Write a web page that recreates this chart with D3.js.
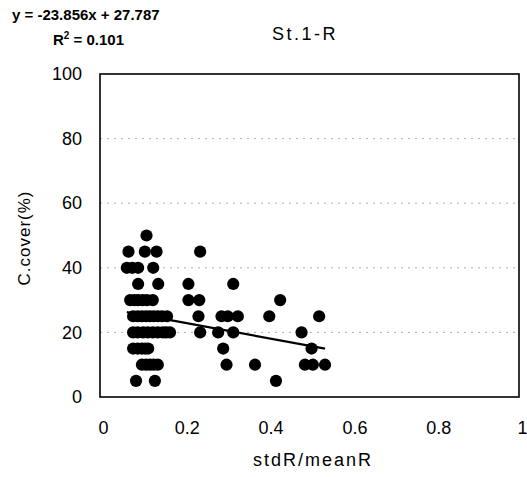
<!DOCTYPE html>
<html>
<head>
<meta charset="utf-8">
<script src="https://cdn.jsdelivr.net/npm/d3@7"></script>
<style>
  body { margin: 0; background: #fff; }
  svg { font-family: "Liberation Sans", Arial, sans-serif; }
</style>
</head>
<body>
<div id="chart"></div>
<script>
// valores (stdR/meanR, C.cover %)
const ratio = [
  0.111,
  0.068, 0.107, 0.135, 0.239,
  0.064, 0.077, 0.091, 0.127,
  0.091, 0.139, 0.211, 0.318,
  0.072, 0.082, 0.091, 0.102, 0.112, 0.126, 0.211, 0.237, 0.430,
  0.079, 0.090, 0.100, 0.110, 0.119, 0.128, 0.138, 0.148, 0.160, 0.235, 0.290, 0.305, 0.329, 0.404, 0.523,
  0.079, 0.090, 0.103, 0.114, 0.126, 0.138, 0.150, 0.158, 0.167, 0.239, 0.282, 0.318, 0.481,
  0.079, 0.090, 0.100, 0.108, 0.115, 0.294, 0.505,
  0.100, 0.110, 0.119, 0.128, 0.138, 0.302, 0.370, 0.489, 0.508, 0.537,
  0.086, 0.131, 0.420
];
const cover = [
  50,
  45, 45, 45, 45,
  40, 40, 40, 40,
  35, 35, 35, 35,
  30, 30, 30, 30, 30, 30, 30, 30, 30,
  25, 25, 25, 25, 25, 25, 25, 25, 25, 25, 25, 25, 25, 25, 25,
  20, 20, 20, 20, 20, 20, 20, 20, 20, 20, 20, 20, 20,
  15, 15, 15, 15, 15, 15, 15,
  10, 10, 10, 10, 10, 10, 10, 10, 10, 10,
  5, 5, 5
];
const slope = -23.856;
const intercept = 27.787;
const r2 = "0.101";
const xTicks = [0, 0.2, 0.4, 0.6, 0.8, 1];
const yTicks = [0, 20, 40, 60, 80, 100];
const gridValues = [20, 40, 60, 80];

const width = 527, height = 477;
const svg = d3.select("#chart").append("svg")
  .attr("width", width)
  .attr("height", height);

const x = d3.scaleLinear().domain([0, 1]).range([100, 519]);
const y = d3.scaleLinear().domain([0, 100]).range([397, 74]);

// linhas de grade pontilhadas
svg.append("g").selectAll("line")
  .data(gridValues)
  .join("line")
  .attr("x1", x(0)).attr("x2", x(1))
  .attr("y1", d => y(d)).attr("y2", d => y(d))
  .attr("stroke", "#999")
  .attr("stroke-width", 0.8)
  .attr("stroke-dasharray", "2,5");

// moldura
svg.append("rect")
  .attr("x", x(0)).attr("y", y(100))
  .attr("width", x(1) - x(0)).attr("height", y(0) - y(100))
  .attr("fill", "none")
  .attr("stroke", "#000")
  .attr("stroke-width", 1.6);

// eixos sem marcas
const yAxis = svg.append("g")
  .attr("transform", `translate(${x(0)},0)`)
  .call(d3.axisLeft(y).tickValues(yTicks).tickSize(0).tickPadding(18).tickFormat(d3.format("d")));
yAxis.select(".domain").remove();
yAxis.selectAll("text").attr("font-size", 18).attr("fill", "#000")
  .attr("font-family", "'Liberation Sans', Arial, sans-serif");

const xAxis = svg.append("g")
  .attr("transform", `translate(0,${y(0)})`)
  .call(d3.axisBottom(x).tickValues(xTicks).tickSize(0).tickPadding(24)
    .tickFormat(d => d === 0 || d === 1 ? d3.format("d")(d) : d3.format(".1f")(d)));
xAxis.select(".domain").remove();
xAxis.selectAll("text").attr("font-size", 18).attr("fill", "#000").attr("dx", 3)
  .attr("font-family", "'Liberation Sans', Arial, sans-serif");

// pontos
svg.append("g").selectAll("circle")
  .data(ratio.map((r, i) => ({ r: r, c: cover[i] })))
  .join("circle")
  .attr("cx", d => x(d.r))
  .attr("cy", d => y(d.c))
  .attr("r", 6.1)
  .attr("fill", "#000");

// linha de tendencia
const xMin = d3.min(ratio), xMax = d3.max(ratio);
svg.append("line")
  .attr("x1", x(xMin)).attr("y1", y(slope * xMin + intercept))
  .attr("x2", x(xMax)).attr("y2", y(slope * xMax + intercept))
  .attr("stroke", "#000")
  .attr("stroke-width", 2.2);

// textos
svg.append("text")
  .attr("x", 12).attr("y", 20)
  .attr("font-size", 15).attr("font-weight", "bold")
  .text(`y = ${slope}x + ${intercept}`);

const r2Text = svg.append("text")
  .attr("x", 53).attr("y", 45)
  .attr("font-size", 15).attr("font-weight", "bold");
r2Text.append("tspan").text("R");
r2Text.append("tspan").attr("font-size", 10).attr("dy", -6).text("2");
r2Text.append("tspan").attr("dy", 6).text(` = ${r2}`);

svg.append("text")
  .attr("x", 305).attr("y", 40)
  .attr("text-anchor", "middle")
  .attr("font-size", 18).attr("letter-spacing", 2.5)
  .text("St.1-R");

svg.append("text")
  .attr("transform", "translate(30,238) rotate(-90)")
  .attr("text-anchor", "middle")
  .attr("font-size", 17).attr("letter-spacing", 1)
  .text("C.cover(%)");

svg.append("text")
  .attr("x", 313).attr("y", 466)
  .attr("text-anchor", "middle")
  .attr("font-size", 18).attr("letter-spacing", 2)
  .text("stdR/meanR");
</script>
</body>
</html>
